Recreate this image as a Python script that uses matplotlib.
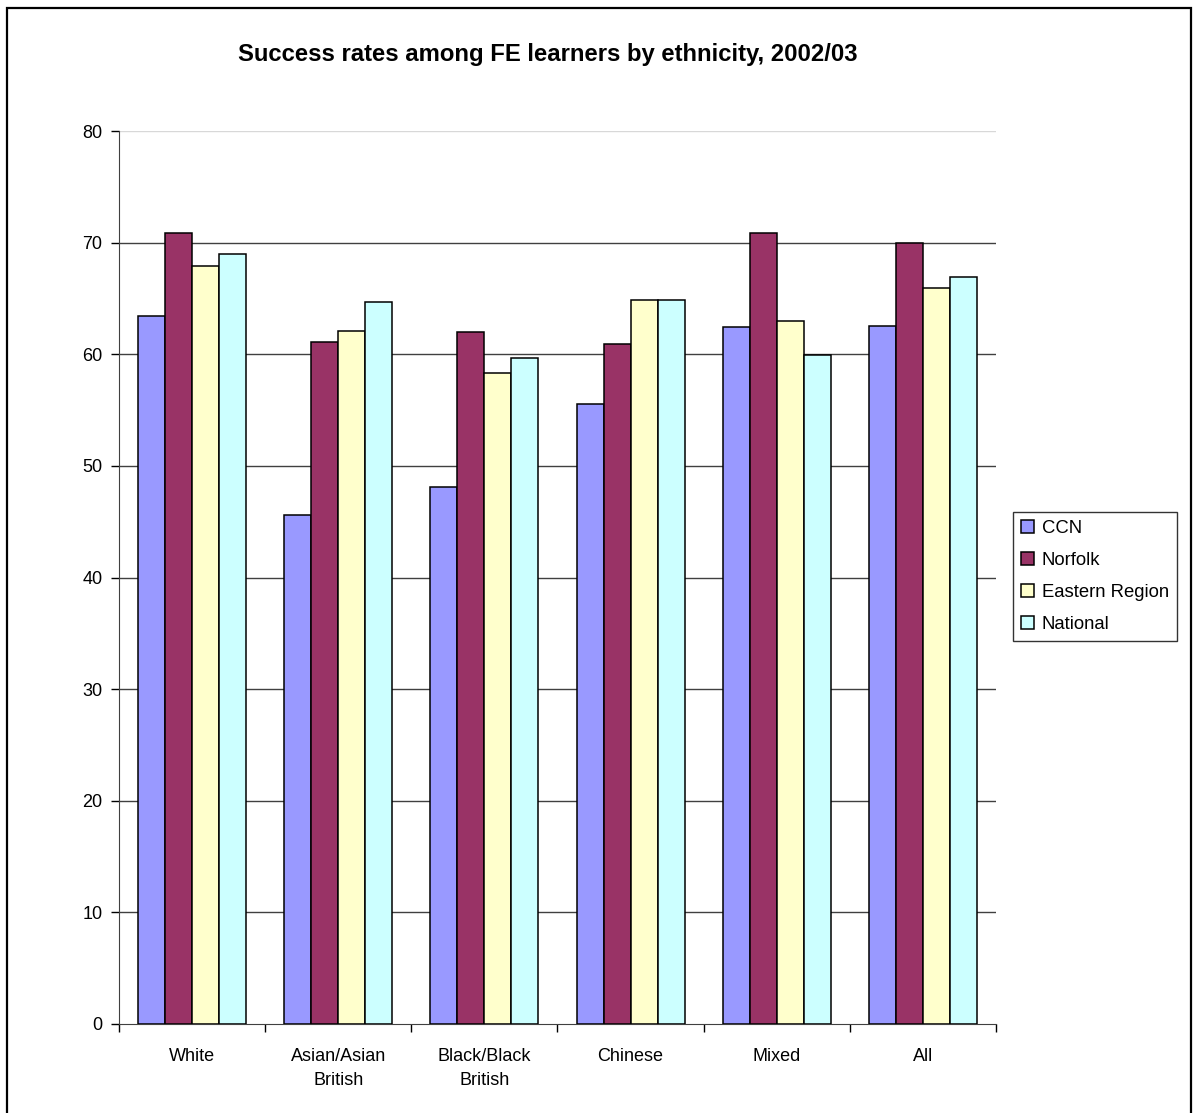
import matplotlib
matplotlib.use("Agg")
import matplotlib.pyplot as plt
import numpy as np
from matplotlib.patches import Rectangle

plt.rcParams['font.family'] = ['Liberation Sans', 'DejaVu Sans']

categories = ["White", "Asian/Asian\nBritish", "Black/Black\nBritish", "Chinese", "Mixed", "All"]
series_names = ["CCN", "Norfolk", "Eastern Region", "National"]
ccn = [63.4, 45.6, 48.1, 55.5, 62.4, 62.5]
norfolk = [70.9, 61.1, 62.0, 60.9, 70.9, 70.0]
eastern = [67.9, 62.1, 58.3, 64.9, 63.0, 65.9]
national = [69.0, 64.7, 59.7, 64.9, 59.9, 66.9]
colors = ["#9999FF", "#993366", "#FFFFCC", "#CCFFFF"]
yticks = [0, 10, 20, 30, 40, 50, 60, 70, 80]
title = "Success rates among FE learners by ethnicity, 2002/03"

W, H = 1194, 1113
fig = plt.figure(figsize=(W / 100, H / 100), dpi=100)
ax = fig.add_axes([119 / W, 1 - 1024 / H, (996 - 119) / W, (1024 - 131) / H])

x = np.arange(len(categories))
bw = 0.185
data = [ccn, norfolk, eastern, national]
for i, (vals, c, name) in enumerate(zip(data, colors, series_names)):
    ax.bar(x + (i - 1.5) * bw, vals, width=bw, color=c, edgecolor="black",
           linewidth=1.1, label=name, zorder=3)

ax.set_xlim(-0.5, len(categories) - 0.5)
ax.set_ylim(0, 80)
ax.set_yticks(yticks)
ax.tick_params(axis='y', direction='out', length=6, width=1, labelsize=13, pad=6)
ax.set_xticks(x)
ax.set_xticklabels(categories, fontsize=13, linespacing=1.6)
ax.tick_params(axis='x', length=0, pad=17)
ax.set_xticks(np.arange(-0.5, len(categories)), minor=True)
ax.tick_params(axis='x', which='minor', direction='out', length=6, width=1)

for y in yticks[1:]:
    ax.axhline(y, color="#d8d8d8" if y == 80 else "#404040", linewidth=1, zorder=1)

for s in ['top', 'right']:
    ax.spines[s].set_visible(False)
ax.spines['left'].set_color('#404040')
ax.spines['bottom'].set_color('#404040')

fig.text(548 / W, 1 - 54 / H, title, ha='center', va='center', fontsize=17.2, fontweight='bold')

leg = fig.legend(loc='upper left', bbox_to_anchor=(1013 / W, 1 - 512 / H),
                 fontsize=13.3, frameon=True, fancybox=False, edgecolor='black',
                 handlelength=0.7, handleheight=0.7, handletextpad=0.4,
                 labelspacing=0.8, borderpad=0.45, borderaxespad=0)
leg.get_frame().set_linewidth(1)

# outer chart frame
fig.patches.append(Rectangle((7 / W, -0.05), (1191 - 7) / W, 1 - 8 / H + 0.05,
                             transform=fig.transFigure, fill=False,
                             edgecolor='black', linewidth=1.6, clip_on=False))
# cropped axis title (cut off at the left edge, as in the reference)
fig.text(-0.0035, 1 - 572 / H, "%", ha='center', va='center', rotation=90,
         fontsize=14, fontweight='bold')

fig.savefig("out.png", dpi=100)
